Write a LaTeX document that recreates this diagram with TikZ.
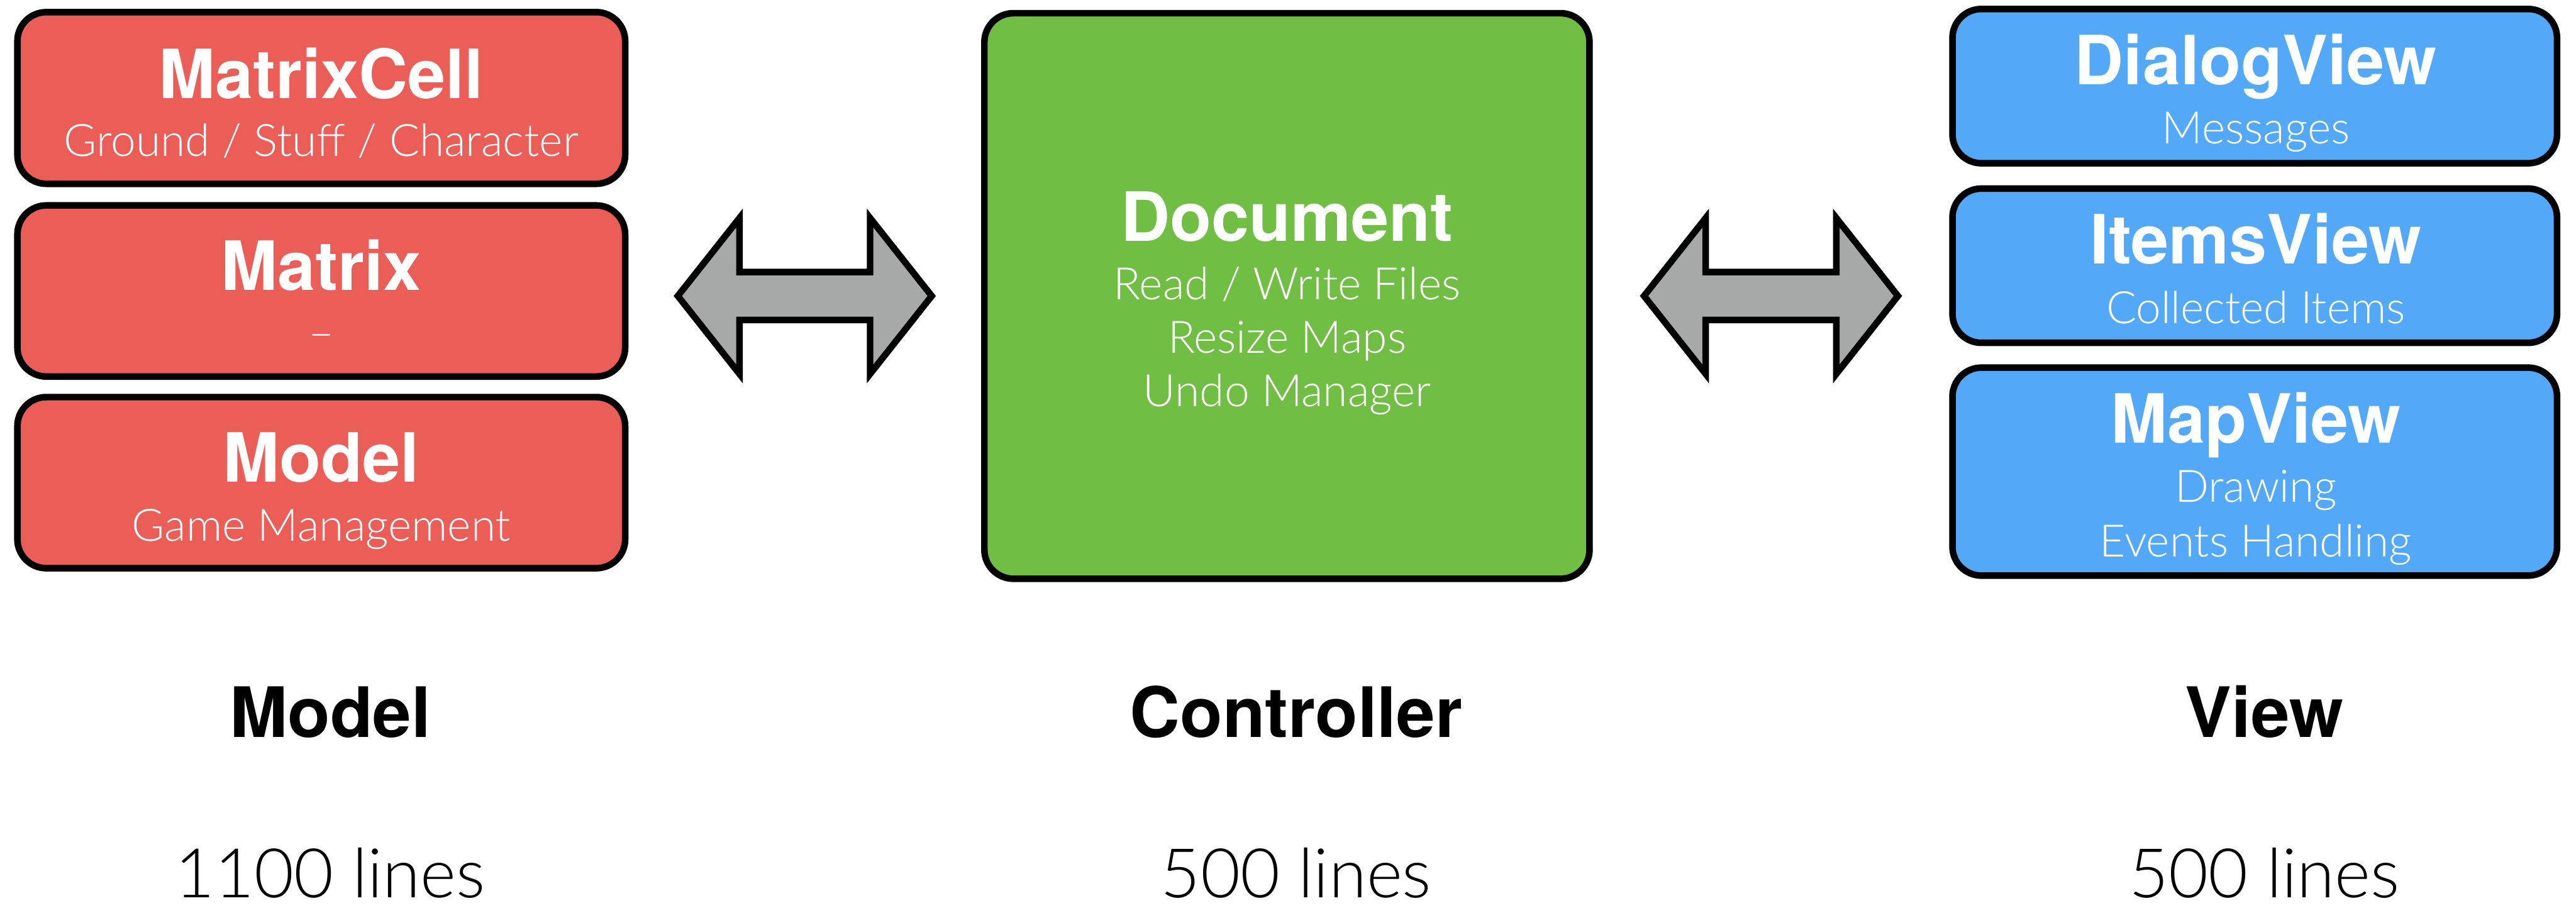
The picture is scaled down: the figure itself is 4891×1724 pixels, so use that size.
\documentclass[tikz,border=0pt]{standalone}
\usepackage{fontspec}
\usetikzlibrary{calc}
\setmainfont{TeX Gyre Heros}
\IfFontExistsTF{Lato Light}{\newfontfamily\lightf{Lato Light}}{%
  \IfFontExistsTF{Open Sans Light}{\newfontfamily\lightf{Open Sans Light}}{\newfontfamily\lightf{TeX Gyre Heros}}}
\definecolor{mred}{RGB}{235,94,88}
\definecolor{cgreen}{RGB}{112,190,68}
\definecolor{vblue}{RGB}{83,168,248}
\definecolor{agray}{RGB}{166,169,167}
\begin{document}
\begin{tikzpicture}[x=0.1pt,y=-0.1pt,
  box/.style={draw=black, line width=1.25pt, rounded corners=5.5pt, inner sep=0pt},
  redbox/.style={box, fill=mred},
  greenbox/.style={box, fill=cgreen},
  bluebox/.style={box, fill=vblue},
  ttl/.style={anchor=base, inner sep=0pt, text=white, font=\bfseries\fontsize{12.9pt}{14pt}\selectfont},
  sub/.style={anchor=base, inner sep=0pt, text=white, font=\lightf\fontsize{8.5pt}{10pt}\selectfont},
  lbl/.style={anchor=base, inner sep=0pt, text=black, font=\bfseries\fontsize{13.2pt}{15pt}\selectfont},
  cnt/.style={anchor=base, inner sep=0pt, text=black, font=\lightf\fontsize{13pt}{15pt}\selectfont},
  bigarrow/.style={draw=black, fill=agray, line width=1.25pt, line join=miter}
]
\useasboundingbox (0,0) rectangle (4891,1724);

% Model column
\node[redbox, minimum width=115.4pt, minimum height=32.6pt] (mc) at (610,186) {};
\node[redbox, minimum width=115.4pt, minimum height=32.5pt] (mx) at (610,552.5) {};
\node[redbox, minimum width=115.4pt, minimum height=32.5pt] (md) at (610,916.5) {};
\node[ttl] (mct) at (610,187) {MatrixCell};
\node[sub] (mcs) at (610,297) {Ground / Stuff / Character};
\node[ttl] (mxt) at (610,551) {Matrix};
\node[sub] (mxs) at (610,661) {–};
\node[ttl] (mdt) at (610,915) {Model};
\node[sub] (mds) at (610,1027) {Game Management};

% Controller
\node[greenbox, minimum width=114.9pt, minimum height=107.4pt] (doc) at (2443.5,562) {};
\node[ttl] (doct) at (2444,458) {Document};
\node[sub] (docs1) at (2444,569) {Read / Write Files};
\node[sub] (docs2) at (2444,670) {Resize Maps};
\node[sub] (docs3) at (2444,772) {Undo Manager};

% View column
\node[bluebox, minimum width=114.8pt, minimum height=29.3pt] (dv) at (4281,163.5) {};
\node[bluebox, minimum width=114.8pt, minimum height=29.3pt] (iv) at (4281,504.5) {};
\node[bluebox, minimum width=114.8pt, minimum height=39.5pt] (mv) at (4281,895.5) {};
\node[ttl] (dvt) at (4283,161) {DialogView};
\node[sub] (dvs) at (4283,273) {Messages};
\node[ttl] (ivt) at (4283,501) {ItemsView};
\node[sub] (ivs) at (4283,614) {Collected Items};
\node[ttl] (mvt) at (4283,841) {MapView};
\node[sub] (mvs1) at (4283,954) {Drawing};
\node[sub] (mvs2) at (4283,1057) {Events Handling};

% double arrows
\coordinate (a1) at ($(mx.east |- doc.west)!0.5!(doc.west)$);
\coordinate (a2) at ($(doc.east)!0.5!(iv.west |- doc.east)$);
\foreach \c in {a1,a2}{
  \draw[bigarrow, shift={(\c)}] (-241,0) -- (-124,-148) -- (-124,-45.5) -- (124,-45.5)
    -- (124,-148) -- (241,0) -- (124,148) -- (124,45.5) -- (-124,45.5) -- (-124,148) -- cycle;
}

% bottom labels
\node[lbl] (lm) at (627,1400) {Model};
\node[lbl] (lc) at (2461,1400) {Controller};
\node[lbl] (lv) at (4299,1400) {View};
\node[cnt] (nm) at (627,1704) {1100 lines};
\node[cnt] (nc) at (2461,1704) {500 lines};
\node[cnt] (nv) at (4299,1704) {500 lines};
\end{tikzpicture}
\end{document}
